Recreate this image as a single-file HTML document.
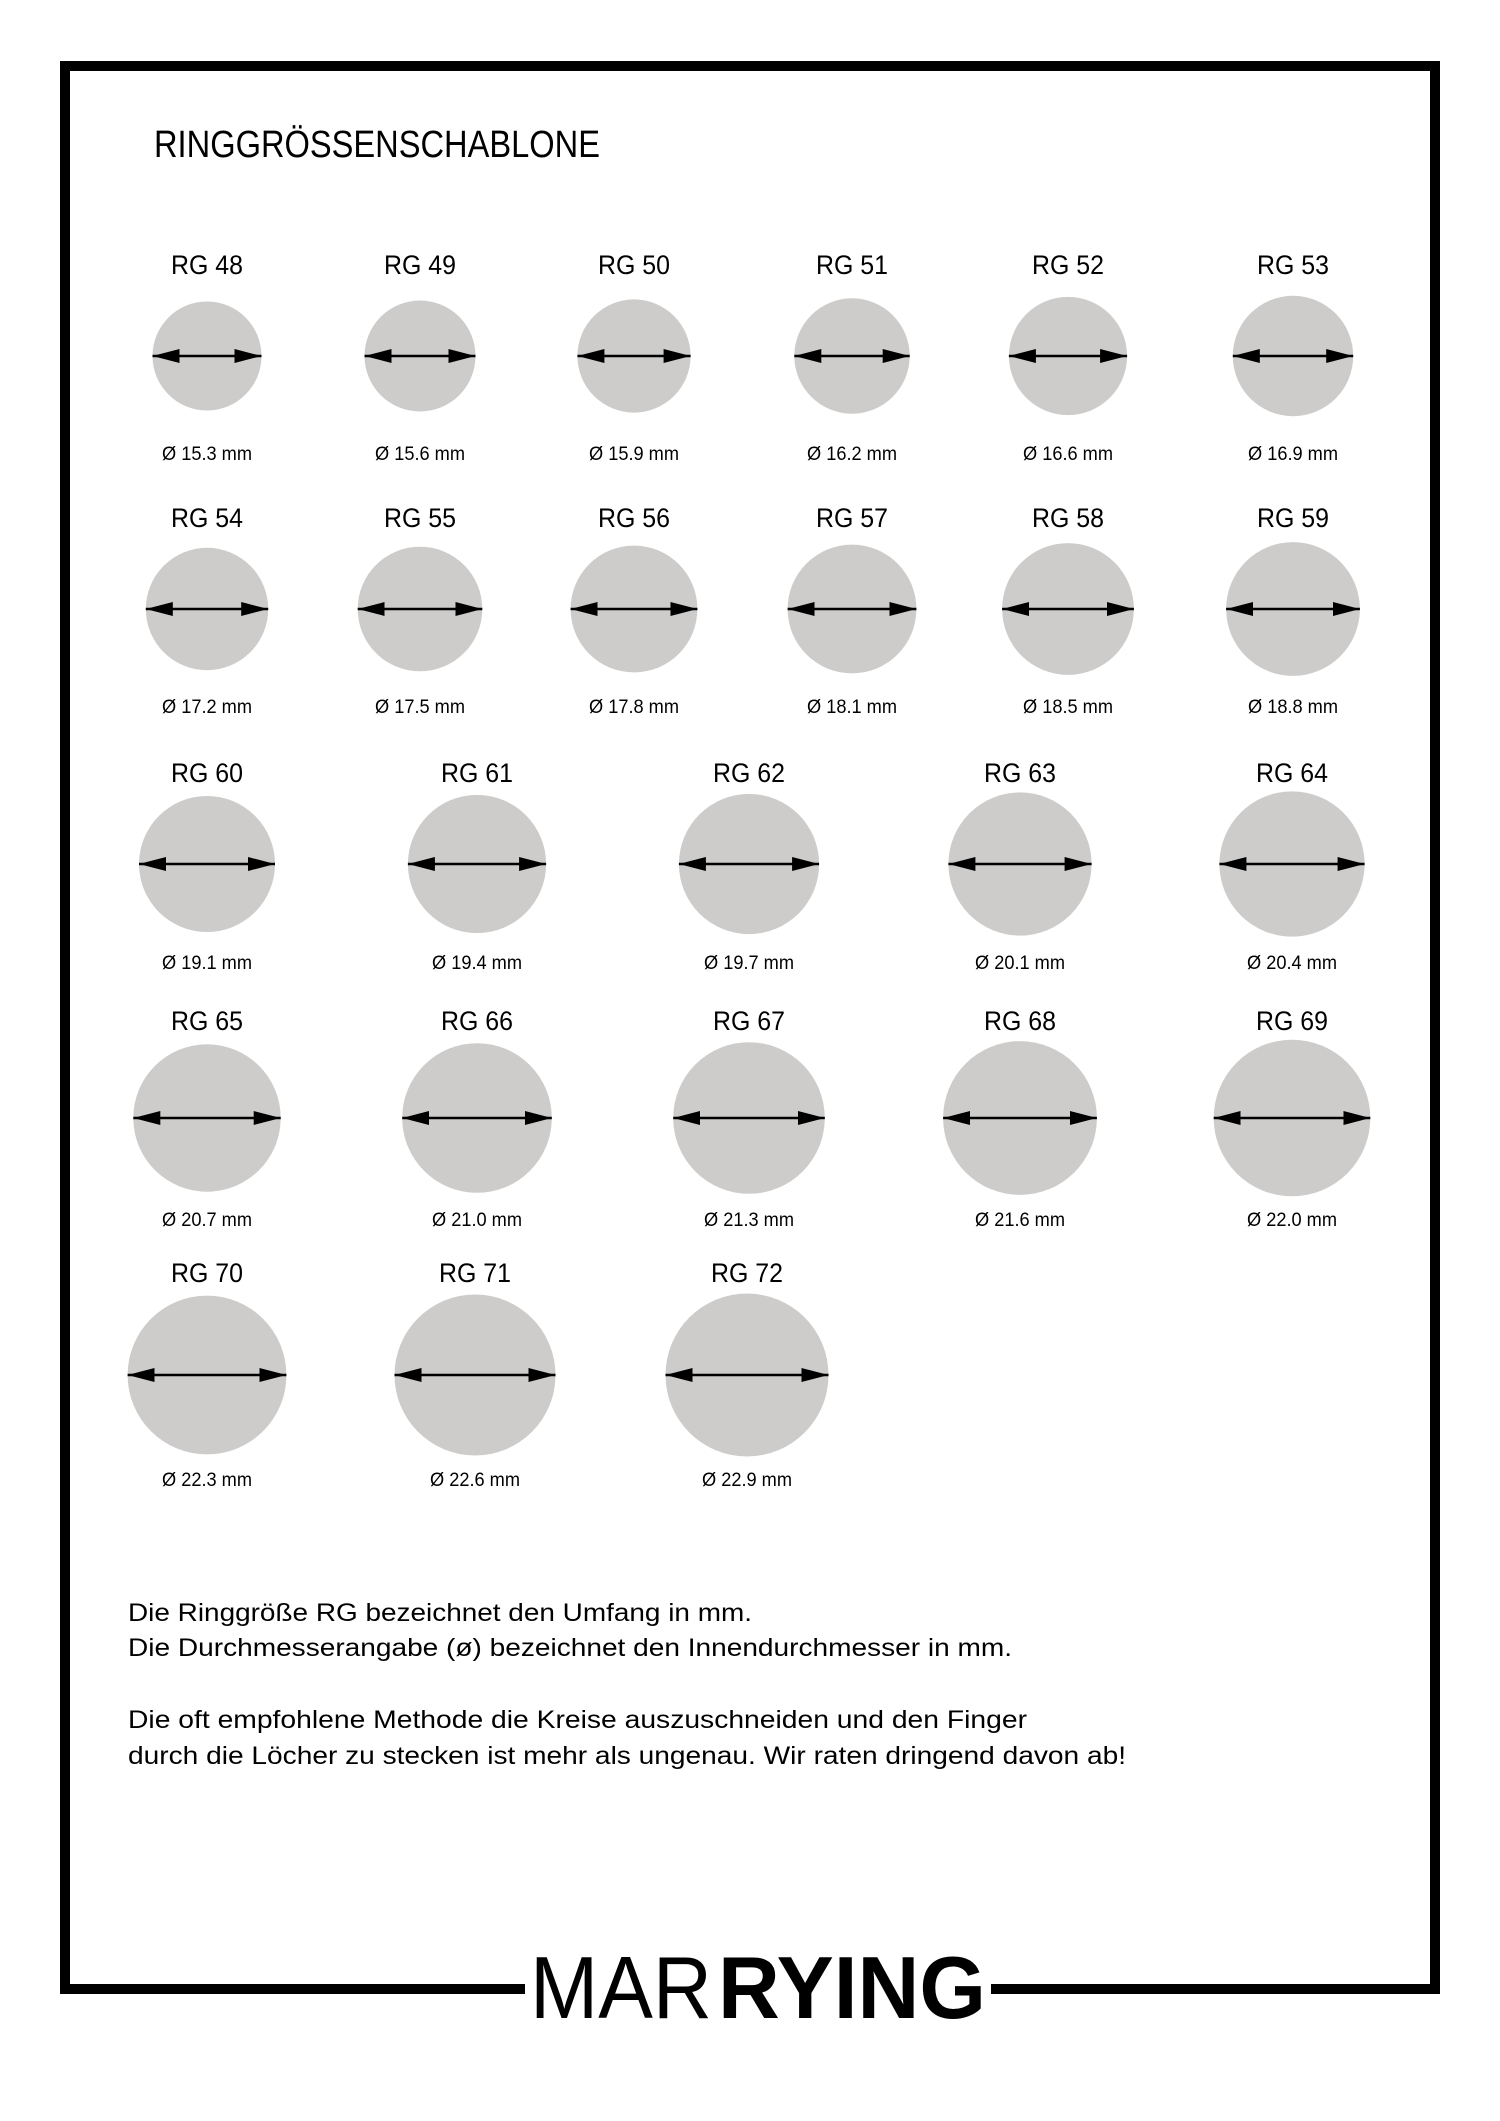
<!DOCTYPE html>
<html><head><meta charset="utf-8"><style>
html,body{margin:0;padding:0;background:#fff}
svg{display:block}
text{font-family:"Liberation Sans Narrow","Liberation Sans",sans-serif;fill:#000}
.l{font-size:27px;text-anchor:middle}
.d{font-size:19px;text-anchor:middle}
circle{fill:#cdcccb}
line{stroke:#000;stroke-width:2.5;marker-start:url(#a);marker-end:url(#a)}
</style></head><body>
<svg width="1500" height="2121" viewBox="0 0 1500 2121" xmlns="http://www.w3.org/2000/svg">
<defs><marker id="a" markerUnits="userSpaceOnUse" markerWidth="28" markerHeight="16" refX="27" refY="7" orient="auto-start-reverse"><path d="M0,0 L27,7 L0,14 z" fill="#000"/></marker></defs>
<rect x="65" y="66" width="1370" height="1923" fill="none" stroke="#000" stroke-width="10"/>
<rect x="525" y="1975" width="466" height="30" fill="#fff"/>
<text x="154" y="157" font-size="38" textLength="446" lengthAdjust="spacingAndGlyphs">RINGGRÖSSENSCHABLONE</text>

<g transform="translate(207,356)"><text class="l" y="-82" textLength="72" lengthAdjust="spacingAndGlyphs">RG 48</text><circle r="54.5"/><line x1="-54.5" x2="54.5"/><text class="d" y="104" textLength="90" lengthAdjust="spacingAndGlyphs">Ø 15.3 mm</text></g>
<g transform="translate(420,356)"><text class="l" y="-82" textLength="72" lengthAdjust="spacingAndGlyphs">RG 49</text><circle r="55.5"/><line x1="-55.5" x2="55.5"/><text class="d" y="104" textLength="90" lengthAdjust="spacingAndGlyphs">Ø 15.6 mm</text></g>
<g transform="translate(634,356)"><text class="l" y="-82" textLength="72" lengthAdjust="spacingAndGlyphs">RG 50</text><circle r="56.6"/><line x1="-56.6" x2="56.6"/><text class="d" y="104" textLength="90" lengthAdjust="spacingAndGlyphs">Ø 15.9 mm</text></g>
<g transform="translate(852,356)"><text class="l" y="-82" textLength="72" lengthAdjust="spacingAndGlyphs">RG 51</text><circle r="57.7"/><line x1="-57.7" x2="57.7"/><text class="d" y="104" textLength="90" lengthAdjust="spacingAndGlyphs">Ø 16.2 mm</text></g>
<g transform="translate(1068,356)"><text class="l" y="-82" textLength="72" lengthAdjust="spacingAndGlyphs">RG 52</text><circle r="59.1"/><line x1="-59.1" x2="59.1"/><text class="d" y="104" textLength="90" lengthAdjust="spacingAndGlyphs">Ø 16.6 mm</text></g>
<g transform="translate(1293,356)"><text class="l" y="-82" textLength="72" lengthAdjust="spacingAndGlyphs">RG 53</text><circle r="60.2"/><line x1="-60.2" x2="60.2"/><text class="d" y="104" textLength="90" lengthAdjust="spacingAndGlyphs">Ø 16.9 mm</text></g>

<g transform="translate(207,609)"><text class="l" y="-82" textLength="72" lengthAdjust="spacingAndGlyphs">RG 54</text><circle r="61.2"/><line x1="-61.2" x2="61.2"/><text class="d" y="104" textLength="90" lengthAdjust="spacingAndGlyphs">Ø 17.2 mm</text></g>
<g transform="translate(420,609)"><text class="l" y="-82" textLength="72" lengthAdjust="spacingAndGlyphs">RG 55</text><circle r="62.3"/><line x1="-62.3" x2="62.3"/><text class="d" y="104" textLength="90" lengthAdjust="spacingAndGlyphs">Ø 17.5 mm</text></g>
<g transform="translate(634,609)"><text class="l" y="-82" textLength="72" lengthAdjust="spacingAndGlyphs">RG 56</text><circle r="63.4"/><line x1="-63.4" x2="63.4"/><text class="d" y="104" textLength="90" lengthAdjust="spacingAndGlyphs">Ø 17.8 mm</text></g>
<g transform="translate(852,609)"><text class="l" y="-82" textLength="72" lengthAdjust="spacingAndGlyphs">RG 57</text><circle r="64.4"/><line x1="-64.4" x2="64.4"/><text class="d" y="104" textLength="90" lengthAdjust="spacingAndGlyphs">Ø 18.1 mm</text></g>
<g transform="translate(1068,609)"><text class="l" y="-82" textLength="72" lengthAdjust="spacingAndGlyphs">RG 58</text><circle r="65.9"/><line x1="-65.9" x2="65.9"/><text class="d" y="104" textLength="90" lengthAdjust="spacingAndGlyphs">Ø 18.5 mm</text></g>
<g transform="translate(1293,609)"><text class="l" y="-82" textLength="72" lengthAdjust="spacingAndGlyphs">RG 59</text><circle r="66.9"/><line x1="-66.9" x2="66.9"/><text class="d" y="104" textLength="90" lengthAdjust="spacingAndGlyphs">Ø 18.8 mm</text></g>

<g transform="translate(207,864)"><text class="l" y="-82" textLength="72" lengthAdjust="spacingAndGlyphs">RG 60</text><circle r="68"/><line x1="-68" x2="68"/><text class="d" y="105" textLength="90" lengthAdjust="spacingAndGlyphs">Ø 19.1 mm</text></g>
<g transform="translate(477,864)"><text class="l" y="-82" textLength="72" lengthAdjust="spacingAndGlyphs">RG 61</text><circle r="69.1"/><line x1="-69.1" x2="69.1"/><text class="d" y="105" textLength="90" lengthAdjust="spacingAndGlyphs">Ø 19.4 mm</text></g>
<g transform="translate(749,864)"><text class="l" y="-82" textLength="72" lengthAdjust="spacingAndGlyphs">RG 62</text><circle r="70.1"/><line x1="-70.1" x2="70.1"/><text class="d" y="105" textLength="90" lengthAdjust="spacingAndGlyphs">Ø 19.7 mm</text></g>
<g transform="translate(1020,864)"><text class="l" y="-82" textLength="72" lengthAdjust="spacingAndGlyphs">RG 63</text><circle r="71.6"/><line x1="-71.6" x2="71.6"/><text class="d" y="105" textLength="90" lengthAdjust="spacingAndGlyphs">Ø 20.1 mm</text></g>
<g transform="translate(1292,864)"><text class="l" y="-82" textLength="72" lengthAdjust="spacingAndGlyphs">RG 64</text><circle r="72.6"/><line x1="-72.6" x2="72.6"/><text class="d" y="105" textLength="90" lengthAdjust="spacingAndGlyphs">Ø 20.4 mm</text></g>

<g transform="translate(207,1118)"><text class="l" y="-88" textLength="72" lengthAdjust="spacingAndGlyphs">RG 65</text><circle r="73.7"/><line x1="-73.7" x2="73.7"/><text class="d" y="108" textLength="90" lengthAdjust="spacingAndGlyphs">Ø 20.7 mm</text></g>
<g transform="translate(477,1118)"><text class="l" y="-88" textLength="72" lengthAdjust="spacingAndGlyphs">RG 66</text><circle r="74.8"/><line x1="-74.8" x2="74.8"/><text class="d" y="108" textLength="90" lengthAdjust="spacingAndGlyphs">Ø 21.0 mm</text></g>
<g transform="translate(749,1118)"><text class="l" y="-88" textLength="72" lengthAdjust="spacingAndGlyphs">RG 67</text><circle r="75.8"/><line x1="-75.8" x2="75.8"/><text class="d" y="108" textLength="90" lengthAdjust="spacingAndGlyphs">Ø 21.3 mm</text></g>
<g transform="translate(1020,1118)"><text class="l" y="-88" textLength="72" lengthAdjust="spacingAndGlyphs">RG 68</text><circle r="76.9"/><line x1="-76.9" x2="76.9"/><text class="d" y="108" textLength="90" lengthAdjust="spacingAndGlyphs">Ø 21.6 mm</text></g>
<g transform="translate(1292,1118)"><text class="l" y="-88" textLength="72" lengthAdjust="spacingAndGlyphs">RG 69</text><circle r="78.3"/><line x1="-78.3" x2="78.3"/><text class="d" y="108" textLength="90" lengthAdjust="spacingAndGlyphs">Ø 22.0 mm</text></g>

<g transform="translate(207,1375)"><text class="l" y="-93" textLength="72" lengthAdjust="spacingAndGlyphs">RG 70</text><circle r="79.4"/><line x1="-79.4" x2="79.4"/><text class="d" y="111" textLength="90" lengthAdjust="spacingAndGlyphs">Ø 22.3 mm</text></g>
<g transform="translate(475,1375)"><text class="l" y="-93" textLength="72" lengthAdjust="spacingAndGlyphs">RG 71</text><circle r="80.5"/><line x1="-80.5" x2="80.5"/><text class="d" y="111" textLength="90" lengthAdjust="spacingAndGlyphs">Ø 22.6 mm</text></g>
<g transform="translate(747,1375)"><text class="l" y="-93" textLength="72" lengthAdjust="spacingAndGlyphs">RG 72</text><circle r="81.5"/><line x1="-81.5" x2="81.5"/><text class="d" y="111" textLength="90" lengthAdjust="spacingAndGlyphs">Ø 22.9 mm</text></g>

<g font-size="25">
<text x="128" y="1621" textLength="624" lengthAdjust="spacingAndGlyphs">Die Ringgröße RG bezeichnet den Umfang in mm.</text>
<text x="128" y="1656" textLength="884" lengthAdjust="spacingAndGlyphs">Die Durchmesserangabe (ø) bezeichnet den Innendurchmesser in mm.</text>
<text x="128" y="1728" textLength="899" lengthAdjust="spacingAndGlyphs">Die oft empfohlene Methode die Kreise auszuschneiden und den Finger</text>
<text x="128" y="1764" textLength="998" lengthAdjust="spacingAndGlyphs">durch die Löcher zu stecken ist mehr als ungenau. Wir raten dringend davon ab!</text>
</g>

<text x="530" y="2018" font-size="88" font-weight="300" style="font-family:'Liberation Sans',sans-serif" textLength="182" lengthAdjust="spacingAndGlyphs">MAR</text>
<text x="718" y="2018" font-size="88" font-weight="700" style="font-family:'Liberation Sans',sans-serif" textLength="268" lengthAdjust="spacingAndGlyphs">RYING</text>
</svg>
</body></html>
